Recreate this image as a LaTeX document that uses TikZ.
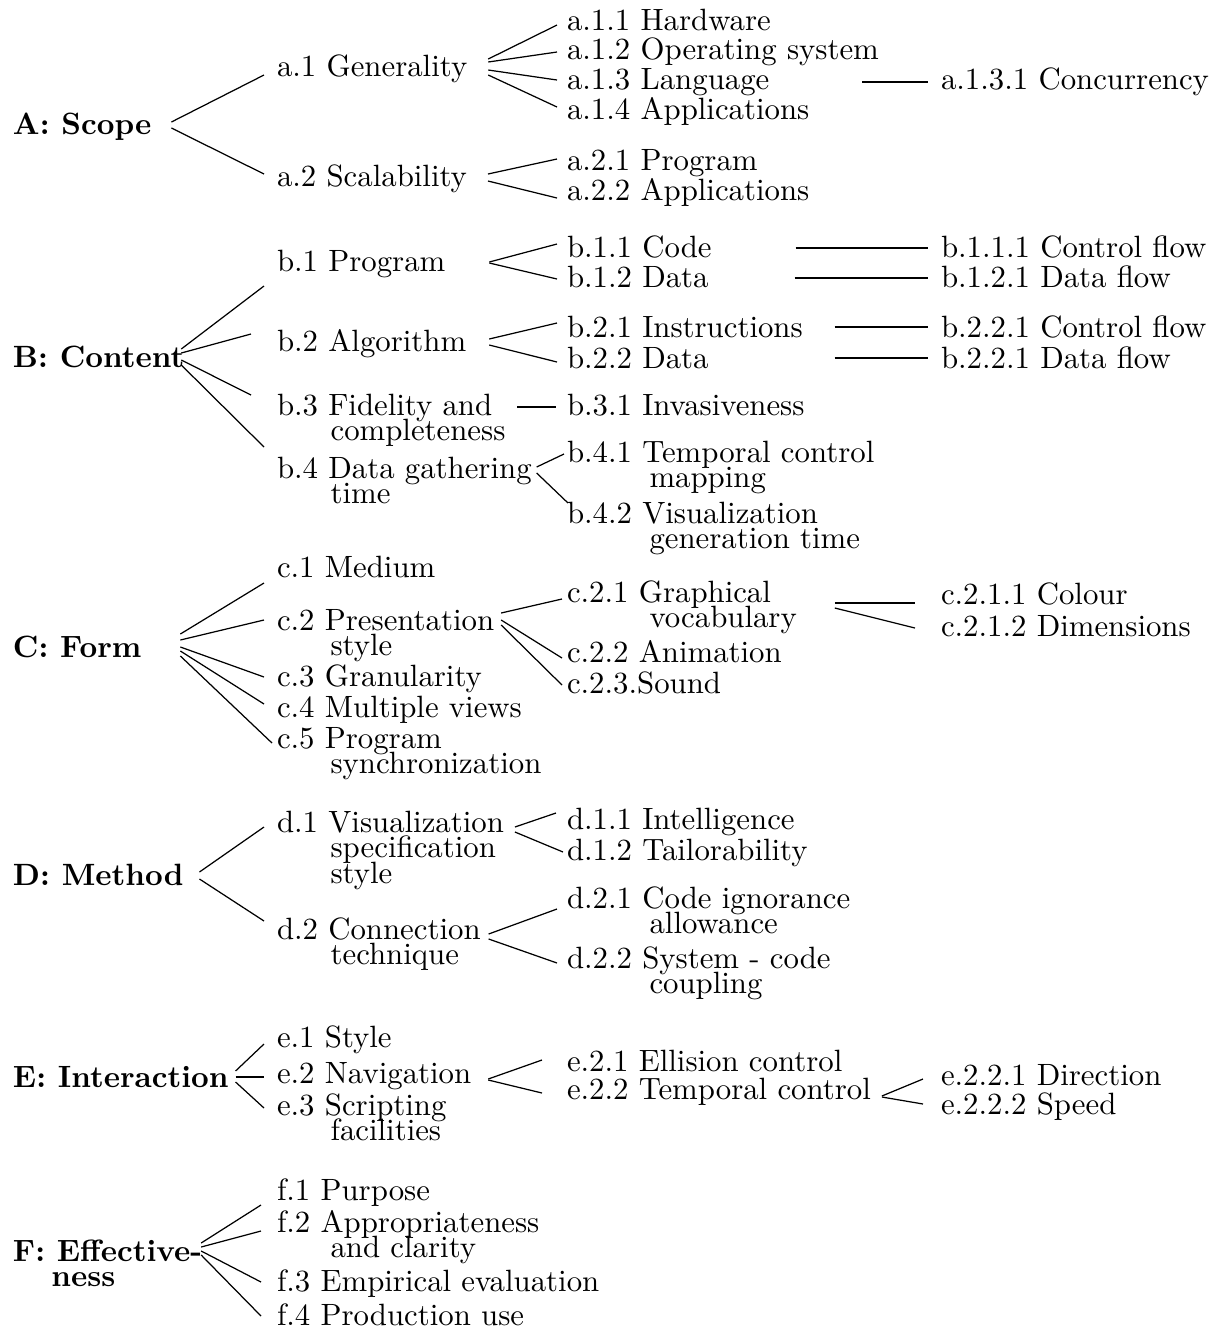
\documentclass[tikz,border=0pt]{standalone}
\usepackage{tikz}
\usetikzlibrary{calc}
\newlength{\indA}\setlength{\indA}{12.5pt}
\newlength{\indB}\setlength{\indB}{17.4pt}
\newlength{\indC}\setlength{\indC}{26.8pt}
\newcommand{\stacked}[1]{\vtop{\baselineskip=8.3pt\lineskiplimit=-\maxdimen\halign{##\hfil\cr#1\crcr}}}
\begin{document}
\begin{tikzpicture}[x=0.32468pt,y=-0.32468pt,
    cat/.style={anchor=base west,inner sep=0pt,outer sep=0pt,font=\bfseries},
    item/.style={anchor=base west,inner sep=0pt,outer sep=0pt},
    link/.style={line width=0.4pt},
    rule/.style={line width=0.6pt}
  ]
  \useasboundingbox (0,0) rectangle (1221,1330);
  % categories
  \node[cat] (A) at (13,134) {A: Scope};
  \node[cat] (B) at (13,367) {B: Content};
  \node[cat] (C) at (13,657) {C: Form};
  \node[cat] (D) at (13,885) {D: Method};
  \node[cat] (E) at (13,1087) {E: Interaction};
  \node[cat] (F) at (13,1261) {\stacked{F: Effective-\cr\hspace*{\indA}ness}};
  % first level
  \node[item] (a1) at (277,76) {a.1 Generality};
  \node[item] (a2) at (277,186) {a.2 Scalability};
  \node[item] (b1) at (277,271) {b.1 Program};
  \node[item] (b2) at (277,351) {b.2 Algorithm};
  \node[item] (b3) at (277,415) {\stacked{b.3 Fidelity and\cr\hspace*{\indB}completeness}};
  \node[item] (b4) at (277,478) {\stacked{b.4 Data gathering\cr\hspace*{\indB}time}};
  \node[item] (c1) at (277,577) {c.1 Medium};
  \node[item] (c2) at (277,630) {\stacked{c.2 Presentation\cr\hspace*{\indB}style}};
  \node[item] (c3) at (277,686) {c.3 Granularity};
  \node[item] (c4) at (277,717) {c.4 Multiple views};
  \node[item] (c5) at (277,748) {\stacked{c.5 Program\cr\hspace*{\indB}synchronization}};
  \node[item] (d1) at (277,832) {\stacked{d.1 Visualization\cr\hspace*{\indB}specification\cr\hspace*{\indB}style}};
  \node[item] (d2) at (277,939) {\stacked{d.2 Connection\cr\hspace*{\indB}technique}};
  \node[item] (e1) at (277,1047) {e.1 Style};
  \node[item] (e2) at (277,1083) {e.2 Navigation};
  \node[item] (e3) at (277,1115) {\stacked{e.3 Scripting\cr\hspace*{\indB}facilities}};
  \node[item] (f1) at (277,1200) {f.1 Purpose};
  \node[item] (f2) at (277,1232) {\stacked{f.2 Appropriateness\cr\hspace*{\indB}and clarity}};
  \node[item] (f3) at (277,1291) {f.3 Empirical evaluation};
  \node[item] (f4) at (277,1325) {f.4 Production use};
  % second level
  \node[item] (a11) at (567,30) {a.1.1 Hardware};
  \node[item] (a12) at (567,59) {a.1.2 Operating system};
  \node[item] (a13) at (567,89) {a.1.3 Language};
  \node[item] (a14) at (567,119) {a.1.4 Applications};
  \node[item] (a21) at (567,170) {a.2.1 Program};
  \node[item] (a22) at (567,200) {a.2.2 Applications};
  \node[item] (b11) at (567,257) {b.1.1 Code};
  \node[item] (b12) at (567,287) {b.1.2 Data};
  \node[item] (b21) at (567,337) {b.2.1 Instructions};
  \node[item] (b22) at (567,368) {b.2.2 Data};
  \node[item] (b31) at (567,415) {b.3.1 Invasiveness};
  \node[item] (b41) at (567,462) {\stacked{b.4.1 Temporal control\cr\hspace*{\indC}mapping}};
  \node[item] (b42) at (567,523) {\stacked{b.4.2 Visualization\cr\hspace*{\indC}generation time}};
  \node[item] (c21) at (567,602) {\stacked{c.2.1 Graphical\cr\hspace*{\indC}vocabulary}};
  \node[item] (c22) at (567,662) {c.2.2 Animation};
  \node[item] (c23) at (567,693) {c.2.3.Sound};
  \node[item] (d11) at (567,829) {d.1.1 Intelligence};
  \node[item] (d12) at (567,860) {d.1.2 Tailorability};
  \node[item] (d21) at (567,908) {\stacked{d.2.1 Code ignorance\cr\hspace*{\indC}allowance}};
  \node[item] (d22) at (567,968) {\stacked{d.2.2 System - code\cr\hspace*{\indC}coupling}};
  \node[item] (e21) at (567,1071) {e.2.1 Ellision control};
  \node[item] (e22) at (567,1099) {e.2.2 Temporal control};
  % third level
  \node[item] (a131) at (941,89) {a.1.3.1 Concurrency};
  \node[item] (b111) at (941,257) {b.1.1.1 Control flow};
  \node[item] (b121) at (941,287) {b.1.2.1 Data flow};
  \node[item] (b211) at (941,337) {b.2.2.1 Control flow};
  \node[item] (b221) at (941,368) {b.2.2.1 Data flow};
  \node[item] (c211) at (941,604) {c.2.1.1 Colour};
  \node[item] (c212) at (941,636) {c.2.1.2 Dimensions};
  \node[item] (e221) at (941,1085) {e.2.2.1 Direction};
  \node[item] (e222) at (941,1114) {e.2.2.2 Speed};
  % categories to first level
  \draw[link] ($(A.base east)+(20,-12)$) -- ($(a1.base west)+(-13,-1)$);
  \draw[link] ($(A.base east)+(20,-6)$) -- ($(a2.base west)+(-13,-12)$);
  \draw[link] ($(B.base east)+(-3,-18)$) -- ($(b1.base west)+(-13,15)$);
  \draw[link] ($(B.base east)+(-3,-14)$) -- ($(b2.base west)+(-26,-17)$);
  \draw[link] ($(B.base east)+(-3,-7)$) -- ($(b3.base west)+(-26,-20)$);
  \draw[link] ($(B.base east)+(-3,-2)$) -- ($(b4.base west)+(-13,-31)$);
  \draw[link] ($(C.base east)+(39,-23)$) -- ($(c1.base west)+(-13,6)$);
  \draw[link] ($(C.base east)+(39,-17)$) -- ($(c2.base west)+(-13,-10)$);
  \draw[link] ($(C.base east)+(39,-10)$) -- ($(c3.base west)+(-13,-9)$);
  \draw[link] ($(C.base east)+(39,-6)$) -- ($(c4.base west)+(-13,-13)$);
  \draw[link] ($(C.base east)+(39,-1)$) -- ($(c5.base west)+(-5,-5)$);
  \draw[link] ($(D.base east)+(16,-13)$) -- ($(d1.base west)+(-13,-5)$);
  \draw[link] ($(D.base east)+(16,-6)$) -- ($(d2.base west)+(-13,-18)$);
  \draw[link] ($(E.base east)+(7,-16)$) -- ($(e1.base west)+(-13,-3)$);
  \draw[rule] ($(E.base east)+(7,-10)$) -- ($(e2.base west)+(-13,-6)$);
  \draw[link] ($(E.base east)+(7,-5)$) -- ($(e3.base west)+(-13,-7)$);
  \draw[link] ($(F.base east)+(-1,-18)$) -- ($(f1.base west)+(-16,5)$);
  \draw[link] ($(F.base east)+(-1,-14)$) -- ($(f2.base west)+(-16,-1)$);
  \draw[link] ($(F.base east)+(-1,-10)$) -- ($(f3.base west)+(-16,-9)$);
  \draw[link] ($(F.base east)+(-1,-6)$) -- ($(f4.base west)+(-16,-9)$);
  % first level to second level
  \draw[link] ($(a1.base east)+(21,-17)$) -- ($(a11.base west)+(-10,-5)$);
  \draw[link] ($(a1.base east)+(21,-14)$) -- ($(a12.base west)+(-10,-7)$);
  \draw[link] ($(a1.base east)+(21,-6)$) -- ($(a13.base west)+(-10,-9)$);
  \draw[link] ($(a1.base east)+(21,-1)$) -- ($(a14.base west)+(-10,-12)$);
  \draw[link] ($(a2.base east)+(21,-12)$) -- ($(a21.base west)+(-10,-11)$);
  \draw[link] ($(a2.base east)+(21,-5)$) -- ($(a22.base west)+(-10,-2)$);
  \draw[link] ($(b1.base east)+(44,-9)$) -- ($(b11.base west)+(-10,-13)$);
  \draw[link] ($(b1.base east)+(44,-8)$) -- ($(b12.base west)+(-10,-8)$);
  \draw[link] ($(b2.base east)+(23,-12)$) -- ($(b21.base west)+(-10,-14)$);
  \draw[link] ($(b2.base east)+(23,-6)$) -- ($(b22.base west)+(-10,-6)$);
  \draw[rule] ($(b3.base east)+(12,-8)$) -- ($(b31.base west)+(-11,-8)$);
  \draw[link] ($(b4.base east)+(5,-11)$) -- ($(b41.base west)+(-3,-8)$);
  \draw[link] ($(b4.base east)+(5,-5)$) -- ($(b42.base west)+(1,-20)$);
  \draw[link] ($(c2.base east)+(7,-17)$) -- ($(c21.base west)+(-5,-3)$);
  \draw[link] ($(c2.base east)+(7,-10)$) -- ($(c22.base west)+(-5,-4)$);
  \draw[link] ($(c2.base east)+(7,-5)$) -- ($(c23.base west)+(-5,-8)$);
  \draw[link] ($(d1.base east)+(11,-5)$) -- ($(d11.base west)+(-11,-16)$);
  \draw[link] ($(d1.base east)+(11,0)$) -- ($(d12.base west)+(-4,-8)$);
  \draw[link] ($(d2.base east)+(8,-5)$) -- ($(d21.base west)+(-10,1)$);
  \draw[link] ($(d2.base east)+(8,0)$) -- ($(d22.base west)+(-10,-5)$);
  \draw[link] ($(e2.base east)+(17,-4)$) -- ($(e21.base west)+(-25,-11)$);
  \draw[link] ($(e2.base east)+(17,-3)$) -- ($(e22.base west)+(-25,-6)$);
  % second level to third level
  \draw[rule] ($(a13.base east)+(93,-7)$) -- ($(a131.base west)+(-13,-7)$);
  \draw[rule] ($(b11.base east)+(84,-9)$) -- ($(b111.base west)+(-13,-9)$);
  \draw[rule] ($(b12.base east)+(86,-9)$) -- ($(b121.base west)+(-13,-9)$);
  \draw[rule] ($(b21.base east)+(32,-10)$) -- ($(b211.base west)+(-13,-10)$);
  \draw[rule] ($(b22.base east)+(126,-10)$) -- ($(b221.base west)+(-13,-10)$);
  \draw[rule] ($(c21.base east)+(38,1)$) -- ($(c211.base west)+(-26,-1)$);
  \draw[link] ($(c21.base east)+(38,6)$) -- ($(c212.base west)+(-26,-8)$);
  \draw[link] ($(e22.base east)+(11,-3)$) -- ($(e221.base west)+(-18,-6)$);
  \draw[link] ($(e22.base east)+(11,-2)$) -- ($(e222.base west)+(-18,-10)$);
\end{tikzpicture}
\end{document}
